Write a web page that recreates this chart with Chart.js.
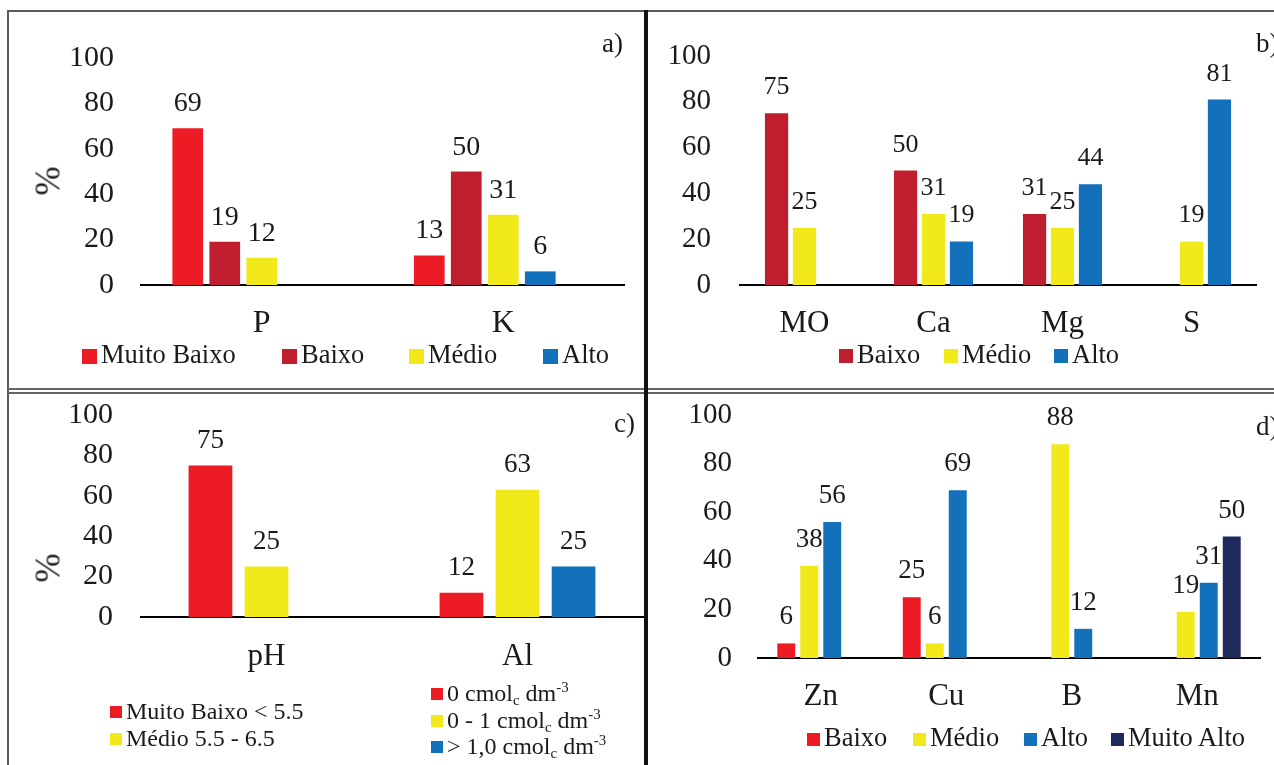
<!DOCTYPE html>
<html lang="pt">
<head>
<meta charset="utf-8">
<title>Classes de fertilidade do solo</title>
<script src="https://cdn.jsdelivr.net/npm/chart.js@4.4.1/dist/chart.umd.min.js"></script>
<style>
  html, body { margin: 0; padding: 0; background: #fff; }
  #fig { position: relative; width: 1274px; height: 765px; overflow: hidden; background: #fff;
         font-family: 'Liberation Serif', 'Times New Roman', serif; color: #1a1a1a; }
  #fig canvas { position: absolute; left: 0; top: 0; }
  .rule { position: absolute; }
  .txt { position: absolute; white-space: nowrap; line-height: 1; }
  .sw { position: absolute; }
  sub, sup { font-size: 62%; line-height: 0; }
  sub { vertical-align: -0.3em; }
  sup { vertical-align: 0.6em; }
</style>
</head>
<body>
<div id="fig">
  <canvas id="chartA" width="1274" height="765"></canvas>
  <canvas id="chartB" width="1274" height="765"></canvas>
  <canvas id="chartC" width="1274" height="765"></canvas>
  <canvas id="chartD" width="1274" height="765"></canvas>
  <!-- panel frames -->
  <div class="rule" style="left:8px;top:10px;width:1266px;height:2px;background:#5a5a5a"></div>
  <div class="rule" style="left:7px;top:10px;width:2px;height:755px;background:#5a5a5a"></div>
  <div class="rule" style="left:8px;top:388px;width:1266px;height:2px;background:#666"></div>
  <div class="rule" style="left:8px;top:392px;width:1266px;height:2px;background:#666"></div>
  <div class="rule" style="left:644px;top:10px;width:4px;height:755px;background:#111"></div>
</div>
<script>
// ---- a) P e K ----
const atributosA = ['P', 'K'];
const muitoBaixoA = [69, 13];
const baixoA = [19, 50];
const medioA = [12, 31];
const altoA = [null, 6];
const muitoAltoA = [null, null];

// ---- b) MO, Ca, Mg e S ----
const atributosB = ['MO', 'Ca', 'Mg', 'S'];
const baixoB = [75, 50, 31, null];
const medioB = [25, 31, 25, 19];
const altoB = [null, 19, 44, 81];

// ---- c) pH e Al ----
const atributosC = ['pH', 'Al'];
const classe1C = [75, 12];
const classe2C = [25, 63];
const classe3C = [null, 25];
const legendaPH = ['Muito Baixo < 5.5', 'Médio 5.5 - 6.5'];
const legendaAl = ['0 cmol<sub>c</sub> dm<sup>-3</sup>',
                   '0 - 1 cmol<sub>c</sub> dm<sup>-3</sup>',
                   '&gt; 1,0 cmol<sub>c</sub> dm<sup>-3</sup>'];

// ---- d) Zn, Cu, B e Mn ----
const atributosD = ['Zn', 'Cu', 'B', 'Mn'];
const baixoD = [6, 25, null, null];
const medioD = [38, 6, 88, 19];
const altoD = [56, 69, 12, 31];
const muitoAltoD = [null, null, null, 50];

// y axis (% of samples)
const yMin = 0, yMax = 100, yStep = 20;

const FONT = "'Liberation Serif', 'Times New Roman', serif";
const INK = '#1a1a1a';
const RED = '#ED1C24', DARK_RED = '#BE1E2D', YELLOW = '#F2E91B', BLUE = '#1271BA', NAVY = '#1F2A5C';
const W = 1274, H = 765;

Chart.defaults.font.family = FONT;
Chart.defaults.color = INK;
Chart.defaults.animation = false;

// value printed above every bar
const valueLabels = {
  id: 'valueLabels',
  afterDatasetsDraw(chart, args, opts) {
    const ctx = chart.ctx;
    ctx.save();
    ctx.font = opts.size + 'px ' + FONT;
    ctx.fillStyle = INK;
    ctx.textAlign = 'center';
    ctx.textBaseline = 'alphabetic';
    chart.data.datasets.forEach((ds, i) => {
      chart.getDatasetMeta(i).data.forEach((bar, j) => {
        const v = ds.data[j];
        if (v === null || v === undefined) return;
        ctx.fillText(String(v), bar.x, bar.y - opts.gap);
      });
    });
    ctx.restore();
  }
};

function panel(id, p) {
  return new Chart(document.getElementById(id), {
    type: 'bar',
    data: {
      labels: p.labels,
      datasets: p.series.map(s => ({
        label: s.label, data: s.data, backgroundColor: s.color, borderWidth: 0,
        categoryPercentage: p.catPct, barPercentage: p.barPct
      }))
    },
    options: {
      responsive: false,
      animation: false,
      events: [],
      layout: { padding: { left: 0, top: p.box.top, right: W - p.box.right, bottom: 0 } },
      plugins: {
        legend: { display: false },
        tooltip: { enabled: false },
        valueLabels: { size: p.valueSize, gap: p.valueGap }
      },
      scales: {
        x: {
          grid: { display: false, drawTicks: false },
          border: { display: true, color: '#000', width: 2 },
          ticks: { font: { size: p.catSize }, padding: p.catPad, color: INK, maxRotation: 0 },
          afterFit(s) { s.height = H - p.box.bottom; }
        },
        y: {
          min: yMin, max: yMax,
          grid: { display: false, drawTicks: false },
          border: { display: false },
          ticks: { stepSize: yStep, font: { size: p.tickSize }, padding: p.tickPad, color: INK },
          afterFit(s) { s.width = p.box.left; }
        }
      }
    },
    plugins: [valueLabels]
  });
}

const chartA = panel('chartA', {
  labels: atributosA,
  series: [
    { label: 'Muito Baixo', data: muitoBaixoA, color: RED },
    { label: 'Baixo', data: baixoA, color: DARK_RED },
    { label: 'Médio', data: medioA, color: YELLOW },
    { label: 'Alto', data: altoA, color: BLUE },
    { label: 'Muito Alto', data: muitoAltoA, color: NAVY }
  ],
  box: { left: 141, right: 624, top: 58, bottom: 285 },
  catPct: 0.766, barPct: 0.83,
  tickSize: 30, tickPad: 27, catSize: 32, catPad: 19, valueSize: 28, valueGap: 17
});

const chartB = panel('chartB', {
  labels: atributosB,
  series: [
    { label: 'Baixo', data: baixoB, color: DARK_RED },
    { label: 'Médio', data: medioB, color: YELLOW },
    { label: 'Alto', data: altoB, color: BLUE }
  ],
  box: { left: 740, right: 1256, top: 56, bottom: 285 },
  catPct: 0.65, barPct: 0.83,
  tickSize: 29, tickPad: 29, catSize: 31, catPad: 20, valueSize: 26, valueGap: 19
});

const chartC = panel('chartC', {
  labels: atributosC,
  series: [
    { label: legendaPH[0], data: classe1C, color: RED },
    { label: legendaPH[1], data: classe2C, color: YELLOW },
    { label: legendaAl[2], data: classe3C, color: BLUE }
  ],
  box: { left: 141, right: 643, top: 415, bottom: 617 },
  catPct: 0.67, barPct: 0.78,
  tickSize: 30, tickPad: 28, catSize: 31, catPad: 21, valueSize: 27, valueGap: 18
});

const chartD = panel('chartD', {
  labels: atributosD,
  series: [
    { label: 'Baixo', data: baixoD, color: RED },
    { label: 'Médio', data: medioD, color: YELLOW },
    { label: 'Alto', data: altoD, color: BLUE },
    { label: 'Muito Alto', data: muitoAltoD, color: NAVY }
  ],
  box: { left: 758, right: 1260, top: 415, bottom: 658 },
  catPct: 0.733, barPct: 0.78,
  tickSize: 29, tickPad: 26, catSize: 31, catPad: 20, valueSize: 27, valueGap: 19
});

// ---- text and legends laid over the plots ----
const fig = document.getElementById('fig');
const esc = s => s.replace(/&/g, '&amp;').replace(/</g, '&lt;').replace(/>/g, '&gt;');

function text(html, left, cy, size) {
  const el = document.createElement('div');
  el.className = 'txt';
  el.innerHTML = html;
  el.style.left = left + 'px';
  el.style.top = (cy - 0.56 * size) + 'px';
  el.style.fontSize = size + 'px';
  fig.appendChild(el);
  return el;
}
function swatch(color, left, cy, s) {
  const el = document.createElement('div');
  el.className = 'sw';
  el.style.left = left + 'px';
  el.style.top = (cy - s / 2) + 'px';
  el.style.width = s + 'px';
  el.style.height = s + 'px';
  el.style.background = color;
  fig.appendChild(el);
}
function legend(chart, items, cy, size, sq) {
  items.forEach(it => {
    const ds = chart.data.datasets[it.i];
    swatch(ds.backgroundColor, it.x, cy, sq);
    text(it.html || esc(ds.label), it.x + sq + 4, cy, size);
  });
}
function yTitle(label, cx, cy, size) {
  const el = document.createElement('div');
  el.className = 'txt';
  el.textContent = label;
  el.style.fontSize = size + 'px';
  el.style.left = cx + 'px';
  el.style.top = cy + 'px';
  el.style.transform = 'translate(-50%, -50%) rotate(-90deg)';
  fig.appendChild(el);
}

legend(chartA, [{ i: 0, x: 82 }, { i: 1, x: 282 }, { i: 2, x: 409 }, { i: 3, x: 543 }], 356, 26.5, 15);
legend(chartB, [{ i: 0, x: 839 }, { i: 1, x: 944 }, { i: 2, x: 1054 }], 356, 26.5, 14);
legend(chartC, [{ i: 0, x: 110, html: esc(legendaPH[0]) }], 712, 24, 12);
legend(chartC, [{ i: 1, x: 110, html: esc(legendaPH[1]) }], 739, 24, 12);
legend(chartC, [{ i: 0, x: 431, html: legendaAl[0] }], 694, 24, 12);
legend(chartC, [{ i: 1, x: 431, html: legendaAl[1] }], 721, 24, 12);
legend(chartC, [{ i: 2, x: 431, html: legendaAl[2] }], 747, 24, 12);
legend(chartD, [{ i: 0, x: 807 }, { i: 1, x: 913 }, { i: 2, x: 1024 }, { i: 3, x: 1111 }], 739, 26.5, 13);

text('a)', 602, 45, 27);
text('b)', 1256, 45, 27);
text('c)', 614, 425, 27);
text('d)', 1256, 428, 27);

yTitle('%', 48, 181, 35);
yTitle('%', 48, 568, 35);
</script>
</body>
</html>
